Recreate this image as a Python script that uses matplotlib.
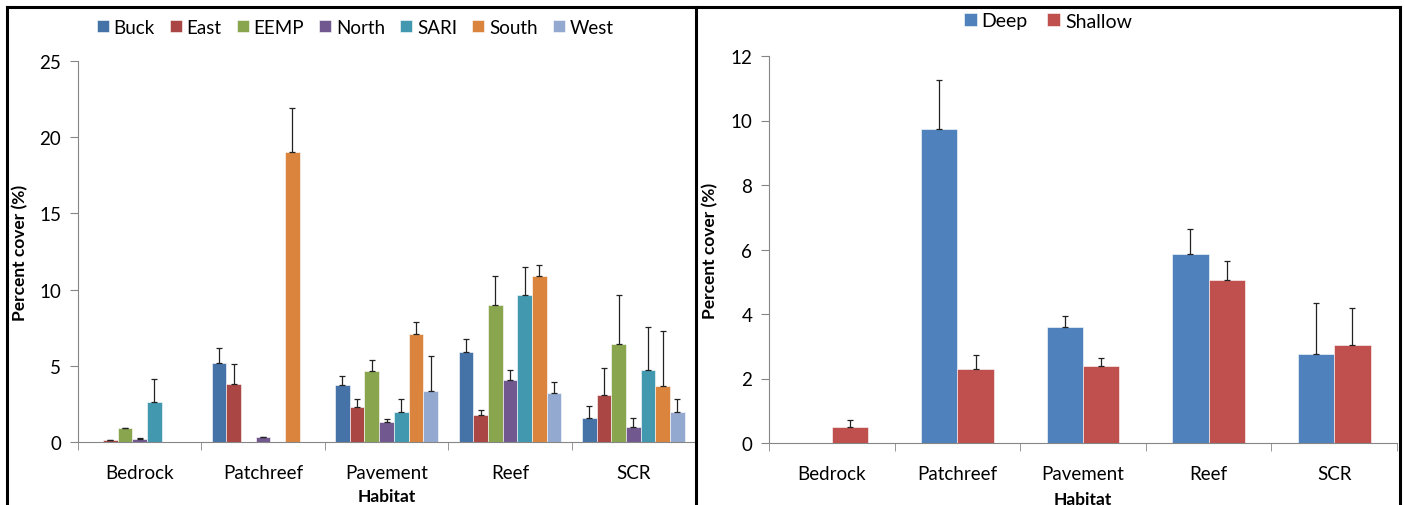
import matplotlib.pyplot as plt
import numpy as np
from matplotlib.lines import Line2D

plt.rcParams["font.family"] = ["Lato", "DejaVu Sans"]

habitats = ["Bedrock", "Patchreef", "Pavement", "Reef", "SCR"]

# left panel: cover by site
sites = ["Buck", "East", "EEMP", "North", "SARI", "South", "West"]
site_colors = ["#4572A7", "#AA4643", "#89A54E", "#71588F", "#4198AF", "#DB843D", "#93A9CF"]
buck = [0.0, 5.2, 3.75, 5.9, 1.55]
east = [0.1, 3.8, 2.3, 1.75, 3.1]
eemp = [0.9, 0.0, 4.65, 9.0, 6.45]
north = [0.2, 0.3, 1.3, 4.05, 1.0]
sari = [2.6, 0.0, 2.0, 9.65, 4.75]
south = [0.0, 19.0, 7.1, 10.9, 3.7]
west = [0.0, 0.0, 3.35, 3.2, 2.0]
buck_err = [0.0, 1.0, 0.6, 0.85, 0.8]
east_err = [0.05, 1.3, 0.55, 0.35, 1.75]
eemp_err = [0.03, 0.0, 0.75, 1.9, 3.2]
north_err = [0.03, 0.05, 0.2, 0.65, 0.6]
sari_err = [1.55, 0.0, 0.8, 1.85, 2.8]
south_err = [0.0, 2.9, 0.8, 0.7, 3.6]
west_err = [0.0, 0.0, 2.3, 0.75, 0.8]

# right panel: cover by depth
depths = ["Deep", "Shallow"]
depth_colors = ["#4F81BD", "#C0504D"]
deep = [0.0, 9.75, 3.6, 5.85, 2.75]
shallow = [0.5, 2.3, 2.4, 5.05, 3.05]
deep_err = [0.0, 1.5, 0.35, 0.8, 1.6]
shallow_err = [0.22, 0.42, 0.25, 0.6, 1.15]

W, H = 1405, 506
fig = plt.figure(figsize=(W / 100, H / 100), dpi=100)

axis_gray = "#868686"


def style_axes(ax, ymax, step):
    ax.set_xlim(-0.5, len(habitats) - 0.5)
    ax.set_ylim(0, ymax)
    ax.set_yticks(np.arange(0, ymax + 0.1, step))
    ax.set_xticks(np.arange(len(habitats)))
    ax.set_xticklabels(habitats)
    ax.set_xticks(np.arange(-0.5, len(habitats)), minor=True)
    ax.tick_params(axis="x", which="major", length=0, pad=16, labelsize=13.5)
    ax.tick_params(axis="x", which="minor", length=6, color=axis_gray)
    ax.tick_params(axis="y", length=6, color=axis_gray, labelsize=13.5, pad=6)
    for s in ["top", "right"]:
        ax.spines[s].set_visible(False)
    for s in ["left", "bottom"]:
        ax.spines[s].set_color(axis_gray)
    ax.set_ylabel("Percent cover (%)", fontsize=12.5, fontweight="bold")
    ax.set_xlabel("Habitat", fontsize=12.5, fontweight="bold")


def draw_bars(ax, series, errors, colors, labels, width):
    n = len(series)
    x = np.arange(len(habitats))
    for i, (vals, errs, c, lab) in enumerate(zip(series, errors, colors, labels)):
        pos = x + (i - (n - 1) / 2) * width
        ax.bar(pos, vals, width, color=c, label=lab, edgecolor="white", linewidth=0.4)
        show = np.array(errs) > 0
        ax.errorbar(pos[show], np.array(vals)[show],
                    yerr=[np.zeros(show.sum()), np.array(errs)[show]],
                    fmt="none", ecolor="#222222", elinewidth=0.9, capsize=2.2, capthick=0.9)


legend_kw = dict(frameon=False, handlelength=0.65, handleheight=0.65, handletextpad=0.25)

# left
ax1 = fig.add_axes([78 / W, (H - 443) / H, (695 - 78) / W, (443 - 62) / H])
draw_bars(ax1, [buck, east, eemp, north, sari, south, west],
          [buck_err, east_err, eemp_err, north_err, sari_err, south_err, west_err],
          site_colors, sites, 0.119)
style_axes(ax1, 25, 5)
ax1.yaxis.set_label_coords(-0.081, 0.5)
ax1.xaxis.set_label_coords(0.5, -0.12)
ax1.legend(loc="center", bbox_to_anchor=(355 / W, 1 - 28 / H), bbox_transform=fig.transFigure,
           ncol=7, fontsize=13.5, columnspacing=0.8, **legend_kw)

# right
ax2 = fig.add_axes([769 / W, (H - 444) / H, (1397 - 769) / W, (444 - 57) / H])
draw_bars(ax2, [deep, shallow], [deep_err, shallow_err], depth_colors, depths, 0.29)
style_axes(ax2, 12, 2)
ax2.yaxis.set_label_coords(-0.08, 0.5)
ax2.xaxis.set_label_coords(0.5, -0.125)
ax2.legend(loc="center", bbox_to_anchor=(1048 / W, 1 - 22 / H), bbox_transform=fig.transFigure,
           ncol=2, fontsize=14, columnspacing=1.0, **legend_kw)

# panel frames
frame = dict(color="black", linewidth=2.2, transform=fig.transFigure)
fig.add_artist(Line2D([7 / W, 7 / W], [0, 1 - 8 / H], **frame))
fig.add_artist(Line2D([7 / W, 1400 / W], [1 - 8 / H, 1 - 8 / H], **frame))
fig.add_artist(Line2D([696 / W, 696 / W], [0, 1 - 8 / H], **frame))
fig.add_artist(Line2D([1400 / W, 1400 / W], [0, 1 - 8 / H], **frame))

fig.savefig("out.png", dpi=100)
